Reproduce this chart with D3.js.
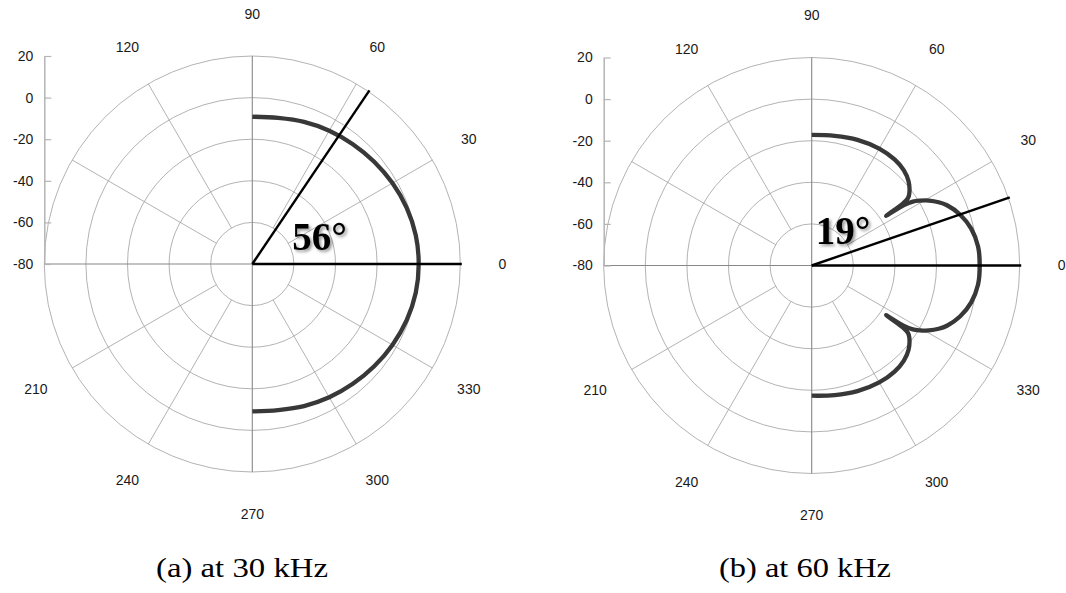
<!DOCTYPE html>
<html>
<head>
<meta charset="utf-8">
<script src="https://cdn.jsdelivr.net/npm/d3@7/dist/d3.min.js"></script>
<style>
  body { margin: 0; background: #fff; }
  svg { display: block; }
  .sans { font-family: Arial, "Liberation Sans", Helvetica, sans-serif; font-size: 14px; }
  .serif { font-family: "Times New Roman", "Liberation Serif", Times, serif; }
</style>
</head>
<body>
<div id="chart"></div>
<script>
// radial axis (dB) and grid
var radialTicks = [20, 0, -20, -40, -60, -80];
var ringValues = [-60, -40, -20, 0, 20];
var spokeAngles = [30, 60, 120, 150, 210, 240, 300, 330];
var angleLabels = [0, 30, 60, 90, 120, 210, 240, 270, 300, 330];

// (a) 30 kHz beam pattern, angle in degrees, level in dB
var anglesA = [90, 80, 70, 60, 50, 40, 30, 20, 10, 0, -10, -20, -30, -40, -50, -60, -70, -80, -90];
var valuesA = [-9.2, -8.7, -7.3, -6.0, -4.8, -3.5, -2.2, -1.0, -0.2, 0, -0.2, -1.0, -2.2, -3.5, -4.8, -6.0, -7.3, -8.7, -9.1];

// (b) 60 kHz beam pattern
var anglesB = [90, 80, 70, 60, 52, 46, 41, 36.5, 35, 34.2, 33.7, 33.2, 32.3, 31, 29, 26.5, 24, 19, 13, 6.5, 0,
  -6.5, -13, -19, -24, -26.5, -29, -31, -32.3, -33.2, -33.7, -34.2, -35, -36.5, -41, -46, -52, -60, -70, -80, -90];
var valuesB = [-17.2, -16.7, -15.7, -15.1, -15.3, -16.3, -18.3, -21.6, -23.5, -27, -37, -27, -22.5, -19.5, -15.6, -11.8, -8.8, -4.6, -1.3, 0.5, 0.8,
  0.5, -1.3, -4.6, -8.8, -11.8, -15.6, -19.5, -22.5, -27, -37, -27, -23.5, -21.6, -18.3, -16.3, -15.3, -15.1, -15.7, -16.7, -17.4];

var beamAngles = [56, 19];
var beamLabels = ["56°", "19°"];
var captions = ["(a) at 30 kHz", "(b) at 60 kHz"];

var R = 208;
var width = 1066, height = 593;

var svg = d3.select("#chart").append("svg")
  .attr("width", width)
  .attr("height", height)
  .style("background", "#fff");

svg.append("defs").append("filter")
  .attr("id", "shadow")
  .attr("x", "-20%").attr("y", "-20%")
  .attr("width", "150%").attr("height", "150%")
  .append("feDropShadow")
  .attr("dx", 2).attr("dy", 2)
  .attr("stdDeviation", 1.6)
  .attr("flood-color", "#000")
  .attr("flood-opacity", 0.4);

var rScale = d3.scaleLinear().domain([-80, 20]).range([0, R]);
var rad = (a) => (a * Math.PI) / 180;

drawPolar({ cx: 252.3, cy: 264, angles: anglesA, values: valuesA, beam: 0, labelX: 40, labelY: -14, capX: 242 });
drawPolar({ cx: 811.7, cy: 265.5, angles: anglesB, values: valuesB, beam: 1, labelX: 4, labelY: -22, capX: 805 });

function drawPolar(opt) {
  var g = svg.append("g").attr("transform", `translate(${opt.cx}, ${opt.cy})`);

  // rings
  g.selectAll("circle.ring")
    .data(ringValues)
    .join("circle")
    .attr("class", "ring")
    .attr("r", (d) => rScale(d))
    .attr("fill", "none")
    .attr("stroke", "#a0a0a0")
    .attr("stroke-width", 0.8);

  // spokes start at the inner ring
  g.selectAll("line.spoke")
    .data(spokeAngles)
    .join("line")
    .attr("class", "spoke")
    .attr("x1", (d) => rScale(-60) * Math.cos(rad(d)))
    .attr("y1", (d) => -rScale(-60) * Math.sin(rad(d)))
    .attr("x2", (d) => R * Math.cos(rad(d)))
    .attr("y2", (d) => -R * Math.sin(rad(d)))
    .attr("stroke", "#a0a0a0")
    .attr("stroke-width", 0.8);

  // crosshair
  g.append("line")
    .attr("x1", -R).attr("x2", R).attr("y1", 0).attr("y2", 0)
    .attr("stroke", "#888").attr("stroke-width", 1.1);
  g.append("line")
    .attr("x1", 0).attr("x2", 0).attr("y1", -R).attr("y2", R)
    .attr("stroke", "#888").attr("stroke-width", 1.1);

  // radial axis on the left
  var yScale = d3.scaleLinear().domain([-80, 20]).range([0, -R]);
  var axis = g.append("g")
    .attr("transform", `translate(${-R}, 0)`)
    .call(d3.axisLeft(yScale)
      .tickValues(radialTicks)
      .tickFormat((d) => String(d))
      .tickSizeInner(-7)
      .tickSizeOuter(0)
      .tickPadding(11));
  axis.attr("font-family", null).attr("font-size", null);
  axis.select(".domain").attr("stroke", "#b5b5b5").attr("stroke-width", 1.5);
  axis.selectAll(".tick line").attr("stroke", "#b5b5b5").attr("stroke-width", 1.2);
  axis.selectAll(".tick text")
    .attr("class", "sans")
    .attr("fill", "#1a1a1a");

  // angle labels
  g.selectAll("text.ang")
    .data(angleLabels)
    .join("text")
    .attr("class", "ang sans")
    .attr("x", (d) => (R + 42) * Math.cos(rad(d)))
    .attr("y", (d) => -(R + 42) * Math.sin(rad(d)))
    .attr("text-anchor", "middle")
    .attr("dy", "0.35em")
    .attr("fill", "#1a1a1a")
    .text((d) => d);

  // beam pattern
  var pts = opt.angles.map((a, i) => ({ a: a, v: opt.values[i] }));
  var line = d3.lineRadial()
    .angle((d) => rad(90 - d.a))
    .radius((d) => rScale(d.v))
    .curve(d3.curveCatmullRom.alpha(0.5));
  g.append("path")
    .datum(pts)
    .attr("d", line)
    .attr("fill", "none")
    .attr("stroke", "#383838")
    .attr("stroke-width", 4.3)
    .attr("stroke-linejoin", "round")
    .attr("stroke-linecap", "butt");

  // beam width lines
  var bl = R + 1.5;
  [0, beamAngles[opt.beam]].forEach(function (a) {
    g.append("line")
      .attr("x1", 0).attr("y1", 0)
      .attr("x2", bl * Math.cos(rad(a)))
      .attr("y2", -bl * Math.sin(rad(a)))
      .attr("stroke", "#000")
      .attr("stroke-width", 2.4);
  });

  g.append("text")
    .attr("class", "serif")
    .attr("x", opt.labelX)
    .attr("y", opt.labelY)
    .attr("filter", "url(#shadow)")
    .attr("font-weight", "bold")
    .attr("font-size", 39)
    .attr("fill", "#000")
    .text(beamLabels[opt.beam]);

  svg.append("text")
    .attr("class", "serif")
    .attr("x", opt.capX)
    .attr("y", 577)
    .attr("text-anchor", "middle")
    .attr("font-size", 28)
    .attr("textLength", 172)
    .attr("lengthAdjust", "spacingAndGlyphs")
    .attr("fill", "#000")
    .text(captions[opt.beam]);
}
</script>
</body>
</html>
